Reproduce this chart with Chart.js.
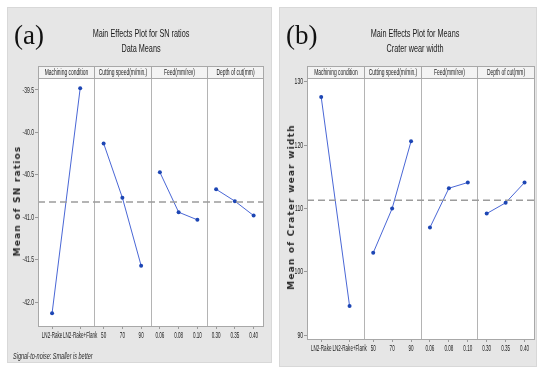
<!DOCTYPE html>
<html>
<head>
<meta charset="utf-8">
<script src="https://cdn.jsdelivr.net/npm/chart.js@4"></script>
<style>
  body { margin: 0; background: #fff; width: 541px; height: 367px; position: relative; overflow: hidden; }
  .panel { position: absolute; background: #e6e6e6; border: 1px solid #d8d8d8; box-sizing: border-box; }
  .panel canvas { position: absolute; left: 0; top: 0; }
  .tag { position: absolute; font-family: 'Liberation Serif', 'DejaVu Serif', serif; font-size: 27px; line-height: 27px; color: #111; }
  .ttl { position: absolute; width: 220px; text-align: center; font-family: 'Liberation Sans', Arial, sans-serif; font-size: 11px; line-height: 14px; color: #1a1a1a; transform: scaleX(0.66); white-space: nowrap; }
  .ytitle { position: absolute; transform: translate(-50%, -50%) rotate(-90deg); white-space: nowrap; font-family: 'DejaVu Sans', sans-serif; font-weight: bold; font-size: 9px; letter-spacing: 1.2px; color: #2a2a2a; }
  .note { position: absolute; font-family: 'Liberation Sans', Arial, sans-serif; font-style: italic; font-size: 9.5px; color: #2a2a2a; transform: scaleX(0.58); transform-origin: left center; white-space: nowrap; }
</style>
</head>
<body>
<div class="panel" style="left:7px; top:7px; width:265px; height:356px;">
  <canvas id="chartA" width="265" height="356"></canvas>
  <div class="tag" style="left:6px; top:14px;">(a)</div>
  <div class="ttl" style="left:23px; top:18px;">Main Effects Plot for SN ratios</div>
  <div class="ttl" style="left:23px; top:33px;">Data Means</div>
  <div class="ytitle" style="left:9px; top:193px;">Mean of SN ratios</div>
  <div class="note" style="left:5px; top:342px;">Signal-to-noise: Smaller is better</div>
</div>
<div class="panel" style="left:279px; top:7px; width:258px; height:360px;">
  <canvas id="chartB" width="258" height="360"></canvas>
  <div class="tag" style="left:6px; top:14px;">(b)</div>
  <div class="ttl" style="left:25px; top:18px;">Main Effects Plot for Means</div>
  <div class="ttl" style="left:25px; top:33px;">Crater wear width</div>
  <div class="ytitle" style="left:11px; top:199px;">Mean of Crater wear width</div>
</div>
<script>
const factors = ['Machining condition', 'Cutting speed(m/min.)', 'Feed(mm/rev)', 'Depth of cut(mm)'];
const levelLabels = [
  ['LN2-Rake', 'LN2-Rake+Flank'],
  ['50', '70', '90'],
  ['0.06', '0.08', '0.10'],
  ['0.30', '0.35', '0.40']
];

// (a) SN ratios
const snRatios = [
  [-42.13, -39.48],
  [-40.13, -40.77, -41.57],
  [-40.47, -40.94, -41.03],
  [-40.67, -40.81, -40.98]
];
const snMean = -40.82;

// (b) means of crater wear width
const craterMeans = [
  [127.6, 94.6],
  [103.0, 110.0, 120.6],
  [107.0, 113.2, 114.1],
  [109.2, 110.9, 114.1]
];
const craterMean = 111.3;

const sans = "'Liberation Sans', Arial, sans-serif";
Chart.defaults.font.family = sans;
Chart.defaults.color = '#333';

// level positions on the 0..4 x scale, one cell per factor
const tickPos = [];
const tickText = [];
levelLabels.forEach((labels, k) => {
  labels.forEach((lab, i) => {
    tickPos.push(k + (i + 0.5) / labels.length);
    tickText.push(lab);
  });
});

// minitab uses a very condensed face, squeeze the text horizontally
function squeezed(ctx, text, x, y, align, sx) {
  ctx.save();
  ctx.translate(x, y);
  ctx.scale(sx, 1);
  ctx.textAlign = align;
  ctx.fillText(text, 0, 0);
  ctx.restore();
}

const panelPlugin = {
  id: 'panelPlugin',
  beforeDraw(chart) {
    const { ctx, chartArea: a } = chart;
    ctx.save();
    ctx.fillStyle = '#fff';
    ctx.fillRect(a.left, a.top, a.right - a.left, a.bottom - a.top);
    ctx.restore();
  },
  beforeDatasetsDraw(chart) {
    const { ctx, chartArea: a, scales: { x } } = chart;
    ctx.save();
    ctx.strokeStyle = '#b4b4b4';
    ctx.lineWidth = 1;
    for (let k = 1; k < factors.length; k++) {
      const px = Math.round(x.getPixelForValue(k)) + 0.5;
      ctx.beginPath();
      ctx.moveTo(px, a.top);
      ctx.lineTo(px, a.bottom);
      ctx.stroke();
    }
    ctx.restore();
  },
  afterDraw(chart) {
    const { ctx, chartArea: a, scales: { x, y } } = chart;
    ctx.save();
    ctx.strokeStyle = '#a8a8a8';
    ctx.lineWidth = 1;
    ctx.strokeRect(Math.round(a.left) + 0.5, Math.round(a.top) + 0.5, Math.round(a.right - a.left), Math.round(a.bottom - a.top));

    // factor header strip
    const h = 12;
    ctx.textBaseline = 'middle';
    factors.forEach((f, k) => {
      const x0 = Math.round(x.getPixelForValue(k)) + 0.5;
      const x1 = Math.round(x.getPixelForValue(k + 1)) + 0.5;
      ctx.fillStyle = '#f3f3f3';
      ctx.fillRect(x0, a.top - h, x1 - x0, h);
      ctx.strokeRect(x0, Math.round(a.top - h) + 0.5, x1 - x0, h);
      ctx.fillStyle = '#222';
      ctx.font = '8.5px ' + sans;
      squeezed(ctx, f, (x0 + x1) / 2, a.top - h / 2 + 0.5, 'center', 0.58);
    });

    // axis tick labels, taken from the scales' own ticks
    ctx.fillStyle = '#222';
    ctx.font = '9.5px ' + sans;
    x.ticks.forEach((t) => {
      squeezed(ctx, t.label, x.getPixelForValue(t.value), a.bottom + 9, 'center', 0.48);
    });
    y.ticks.forEach((t) => {
      squeezed(ctx, t.label, a.left - 4, y.getPixelForValue(t.value), 'right', 0.53);
    });
    ctx.restore();
  }
};

function makeChart(id, values, mean, yMin, yMax, step, decimals, pad, axisW) {
  const datasets = [{
    data: [{ x: 0, y: mean }, { x: factors.length, y: mean }],
    borderColor: '#9c9c9c',
    borderDash: [7, 4],
    borderWidth: 1.3,
    pointRadius: 0
  }];
  values.forEach((vals, k) => {
    datasets.push({
      data: vals.map((v, i) => ({ x: k + (i + 0.5) / vals.length, y: v })),
      borderColor: '#4a67d6',
      borderWidth: 1,
      pointRadius: 2,
      pointBackgroundColor: '#1d46b4',
      pointBorderWidth: 0
    });
  });

  return new Chart(document.getElementById(id).getContext('2d'), {
    type: 'line',
    data: { datasets },
    plugins: [panelPlugin],
    options: {
      responsive: false,
      animation: false,
      devicePixelRatio: 1,
      layout: { padding: pad },
      plugins: { legend: { display: false }, tooltip: { enabled: false } },
      scales: {
        x: {
          type: 'linear',
          min: 0,
          max: factors.length,
          afterBuildTicks: (scale) => { scale.ticks = tickPos.map(v => ({ value: v })); },
          afterFit: (scale) => { scale.height = 18; },
          ticks: {
            display: false,
            autoSkip: false,
            callback: (v, i) => tickText[i]
          },
          grid: { drawOnChartArea: false, tickLength: 3, color: '#9a9a9a' },
          border: { display: false }
        },
        y: {
          min: yMin,
          max: yMax,
          afterFit: (scale) => { scale.width = axisW; },
          ticks: {
            display: false,
            stepSize: step,
            includeBounds: false,
            callback: (v) => v.toFixed(decimals)
          },
          grid: { drawOnChartArea: false, tickLength: 3, color: '#9a9a9a' },
          border: { display: false }
        }
      }
    }
  });
}

makeChart('chartA', snRatios, snMean, -42.28, -39.36, 0.5, 1, { top: 70, right: 10, bottom: 20, left: 0 }, 30);
makeChart('chartB', craterMeans, craterMean, 89.4, 130.6, 10, 0, { top: 70, right: 2, bottom: 11, left: 0 }, 27);
</script>
</body>
</html>
